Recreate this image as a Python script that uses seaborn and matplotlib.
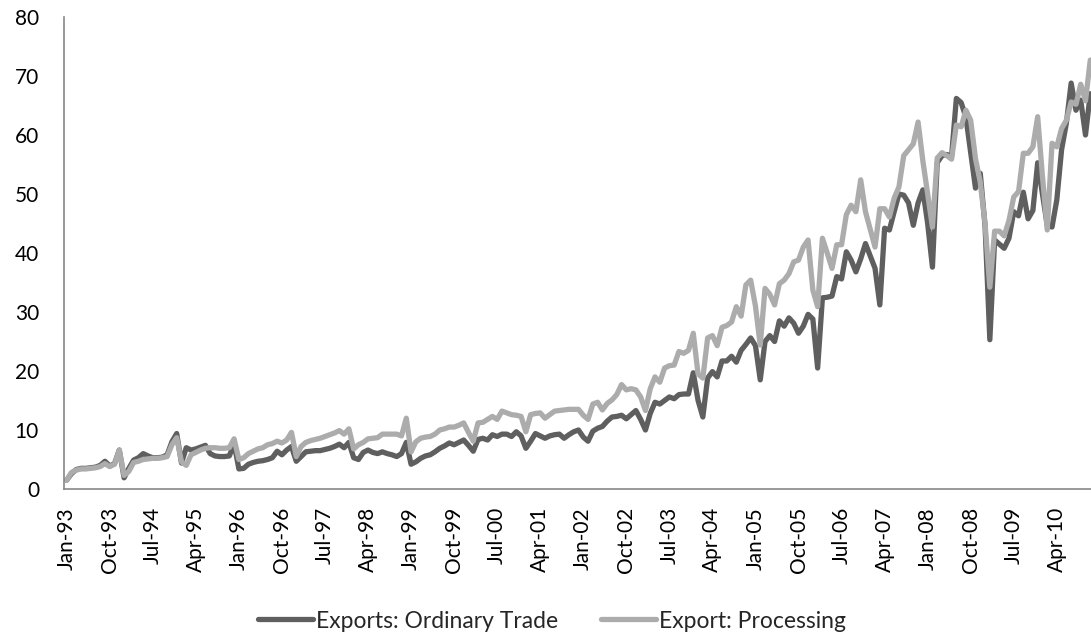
import numpy as np
import pandas as pd
import matplotlib
matplotlib.use("Agg")
import matplotlib.pyplot as plt
import seaborn as sns

# ---- data (monthly, Jan-93 .. Nov-10) ----
ordinary_trade = [
    1.5, 2.6, 3.3, 3.5, 3.5, 3.6, 3.7, 4.0, 4.7, 3.9, 4.3, 6.6,      # 1993
    1.9, 3.5, 4.9, 5.3, 6.0, 5.6, 5.3, 5.3, 5.4, 5.8, 8.0, 9.4,      # 1994
    4.4, 7.0, 6.6, 6.8, 7.1, 7.4, 6.0, 5.6, 5.5, 5.5, 5.6, 7.7,      # 1995
    3.4, 3.5, 4.2, 4.5, 4.7, 4.8, 5.0, 5.3, 6.4, 5.8, 6.6, 7.2,      # 1996
    4.7, 5.5, 6.3, 6.4, 6.5, 6.5, 6.7, 6.9, 7.2, 7.6, 7.0, 7.9,      # 1997
    5.3, 5.0, 6.2, 6.6, 6.2, 6.0, 6.3, 6.0, 5.8, 5.5, 6.0, 7.9,      # 1998
    4.2, 4.6, 5.2, 5.6, 5.8, 6.3, 6.9, 7.3, 7.8, 7.5, 7.9, 8.3,      # 1999
    7.4, 6.4, 8.4, 8.6, 8.3, 9.2, 8.9, 9.3, 9.3, 8.9, 9.7, 9.0,      # 2000
    6.9, 8.1, 9.4, 9.0, 8.6, 9.0, 9.2, 9.3, 8.6, 9.2, 9.7, 10.0,     # 2001
    8.8, 8.1, 9.8, 10.3, 10.6, 11.5, 12.2, 12.3, 12.5, 11.9, 12.6, 13.3,  # 2002
    11.8, 10.0, 12.8, 14.7, 14.4, 15.0, 15.6, 15.3, 16.0, 16.1, 16.1, 19.7,  # 2003
    15.0, 12.2, 18.8, 19.9, 19.0, 21.7, 21.7, 22.5, 21.5, 23.5, 24.5, 25.6,  # 2004
    24.3, 18.5, 25.0, 26.0, 25.0, 28.5, 27.6, 29.0, 28.1, 26.4, 27.6, 29.6,  # 2005
    28.8, 20.5, 32.4, 32.5, 32.7, 36.0, 35.6, 40.2, 38.8, 36.8, 39.0, 41.6,  # 2006
    39.5, 37.4, 31.2, 44.2, 43.9, 47.0, 50.0, 49.8, 48.5, 44.7, 48.5, 50.7,  # 2007
    45.0, 37.6, 55.3, 56.5, 56.7, 56.4, 66.2, 65.5, 63.0, 57.0, 51.0, 53.5,  # 2008
    44.6, 25.3, 42.2, 41.5, 40.8, 42.5, 47.0, 46.3, 50.3, 45.8, 47.2, 55.3,  # 2009
    50.0, 44.7, 44.4, 49.0, 57.5, 62.0, 68.8, 64.2, 65.9, 60.0, 67.0,        # 2010
]
processing = [
    1.5, 2.8, 3.2, 3.4, 3.4, 3.5, 3.6, 3.8, 4.3, 3.8, 4.2, 6.6,      # 1993
    2.3, 3.0, 4.5, 4.7, 5.0, 5.1, 5.2, 5.2, 5.3, 5.5, 7.5, 8.7,      # 1994
    4.6, 4.0, 5.8, 6.2, 6.6, 6.9, 7.0, 7.0, 6.9, 6.9, 7.0, 8.5,      # 1995
    5.0, 5.3, 6.0, 6.4, 6.8, 7.0, 7.5, 7.7, 8.1, 7.8, 8.3, 9.6,      # 1996
    5.5, 7.2, 7.9, 8.2, 8.4, 8.6, 8.9, 9.2, 9.5, 9.9, 9.3, 10.2,     # 1997
    6.8, 7.5, 7.9, 8.5, 8.6, 8.7, 9.3, 9.3, 9.3, 9.3, 9.0, 12.0,     # 1998
    6.3, 8.0, 8.6, 8.8, 8.9, 9.3, 10.0, 10.2, 10.5, 10.5, 10.8, 11.2,  # 1999
    9.6, 8.1, 11.2, 11.3, 11.8, 12.3, 11.8, 13.2, 12.9, 12.6, 12.5, 12.3,  # 2000
    9.7, 12.6, 12.8, 12.9, 12.0, 12.6, 13.2, 13.3, 13.4, 13.5, 13.5, 13.5,  # 2001
    12.5, 11.8, 14.4, 14.7, 13.4, 14.5, 15.1, 16.0, 17.7, 16.8, 17.0, 16.8,  # 2002
    15.6, 13.3, 17.0, 19.0, 18.1, 20.5, 20.9, 21.0, 23.3, 23.0, 23.5, 26.4,  # 2003
    19.5, 18.8, 25.6, 26.0, 24.3, 27.4, 27.7, 28.3, 30.9, 29.3, 34.6, 35.4,  # 2004
    31.0, 24.4, 34.0, 33.0, 31.2, 34.8, 35.4, 36.5, 38.5, 38.8, 41.0, 42.2,  # 2005
    33.7, 30.9, 42.5, 40.0, 37.4, 41.4, 41.4, 46.5, 48.1, 47.0, 52.4, 47.0,  # 2006
    44.0, 41.0, 47.5, 47.5, 46.1, 49.3, 51.2, 56.5, 57.5, 58.5, 62.2, 55.6,  # 2007
    50.0, 44.4, 56.1, 57.0, 56.5, 55.9, 61.7, 61.4, 64.2, 62.5, 56.0, 52.0,  # 2008
    45.0, 34.2, 43.7, 43.7, 42.9, 45.5, 49.5, 50.4, 56.9, 56.9, 58.0, 63.1,  # 2009
    53.0, 43.9, 58.6, 58.0, 61.1, 62.5, 65.6, 65.2, 68.6, 65.8, 72.7,        # 2010
]
series_names = ["Exports: Ordinary Trade", "Export: Processing"]
series_colors = ["#5f5f5f", "#acacac"]
tick_labels = ["Jan-93", "Oct-93", "Jul-94", "Apr-95", "Jan-96", "Oct-96", "Jul-97",
               "Apr-98", "Jan-99", "Oct-99", "Jul-00", "Apr-01", "Jan-02", "Oct-02",
               "Jul-03", "Apr-04", "Jan-05", "Oct-05", "Jul-06", "Apr-07", "Jan-08",
               "Oct-08", "Jul-09", "Apr-10"]
y_ticks = [0, 10, 20, 30, 40, 50, 60, 70, 80]

n = len(ordinary_trade)
month_idx = np.arange(n)
df = pd.DataFrame({
    "month": np.concatenate([month_idx, month_idx]),
    "value": ordinary_trade + processing,
    "series": [series_names[0]] * n + [series_names[1]] * n,
})

sns.set_style("white")
plt.rcParams["font.family"] = ["Lato", "DejaVu Sans"]

W, H = 1091, 639
fig = plt.figure(figsize=(W / 100, H / 100), dpi=100)
ax = fig.add_axes([64 / W, 1 - 489 / H, 1 - 64 / W, (489 - 17) / H])

sns.lineplot(data=df, x="month", y="value", hue="series", hue_order=series_names,
             palette=series_colors, linewidth=3.8, ax=ax, legend=True)

ax.set_xlim(-0.56, 214.15)
ax.set_ylim(0, 80)
ax.set_yticks(y_ticks)
ax.set_yticklabels([str(v) for v in y_ticks])
ax.set_xticks(np.arange(0, n, 9)[:len(tick_labels)])
ax.set_xticklabels(tick_labels, rotation=90)
ax.set_xlabel("")
ax.set_ylabel("")
ax.tick_params(axis="both", length=0, labelsize=15, colors="black")
ax.tick_params(axis="x", pad=13)
ax.tick_params(axis="y", pad=18)
for s in ["top", "right"]:
    ax.spines[s].set_visible(False)
for s in ["left", "bottom"]:
    ax.spines[s].set_color("#878787")
    ax.spines[s].set_linewidth(1.2)
ax.grid(False)

handles, labels = ax.get_legend_handles_labels()
ax.get_legend().remove()
fig.legend(handles, labels, loc="center", bbox_to_anchor=(552 / W, 1 - 621 / H),
           ncol=2, frameon=False, fontsize=16.5, handlelength=2.4, handletextpad=0.12,
           columnspacing=1.9)

fig.savefig("out.png", dpi=100)
